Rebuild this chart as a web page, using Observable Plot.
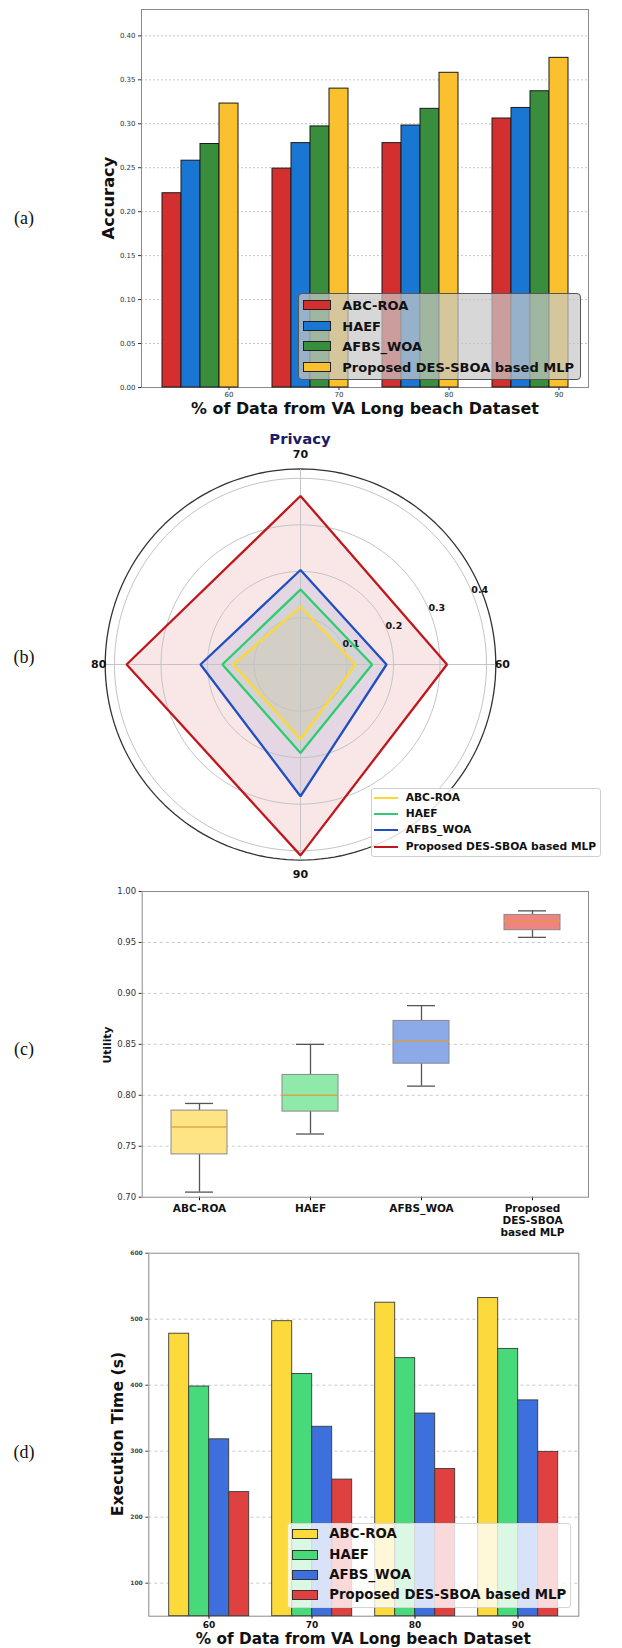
<!DOCTYPE html>
<html><head><meta charset="utf-8">
<script src="https://cdn.jsdelivr.net/npm/d3@7"></script>
<script src="https://cdn.jsdelivr.net/npm/@observablehq/plot@0.6"></script>
<style>
body{margin:0;background:#fff;}
#page{position:relative;width:622px;height:1648px;overflow:hidden;font-family:"DejaVu Sans";background:#fff;}
#page svg{position:absolute;}
</style></head>
<body><div id="page"></div>
<script>
// ---------------- DATA ----------------
const groups = ["60", "70", "80", "90"];
const methods = ["ABC-ROA", "HAEF", "AFBS_WOA", "Proposed DES-SBOA based MLP"];

// (a) Accuracy
const accABC  = [0.221, 0.249, 0.278, 0.306];
const accHAEF = [0.258, 0.278, 0.298, 0.318];
const accAFBS = [0.277, 0.297, 0.317, 0.337];
const accProp = [0.323, 0.340, 0.358, 0.375];
const accTicks = [0, 0.05, 0.10, 0.15, 0.20, 0.25, 0.30, 0.35, 0.40];

// (b) Privacy (radar), order of axes: 60, 70, 80, 90
const privABC  = [0.118, 0.124, 0.145, 0.161];
const privHAEF = [0.154, 0.161, 0.168, 0.190];
const privAFBS = [0.185, 0.203, 0.215, 0.283];
const privProp = [0.315, 0.362, 0.374, 0.410];
const privRTicks = [0.1, 0.2, 0.3, 0.4];

// (c) Utility box plot summary: lower whisker, Q1, median, Q3, upper whisker
const utilLo  = [0.705, 0.762, 0.809, 0.955];
const utilQ1  = [0.742, 0.784, 0.831, 0.962];
const utilMed = [0.769, 0.800, 0.853, 0.971];
const utilQ3  = [0.785, 0.820, 0.873, 0.977];
const utilHi  = [0.792, 0.850, 0.888, 0.981];
const utilTicks = [0.70, 0.75, 0.80, 0.85, 0.90, 0.95, 1.00];
const utilTickLabels = ["ABC-ROA", "HAEF", "AFBS_WOA", "Proposed\nDES-SBOA\nbased MLP"];

// (d) Execution time
const execABC  = [478, 497, 525, 532];
const execHAEF = [398, 417, 441, 455];
const execAFBS = [318, 337, 357, 377];
const execProp = [238, 257, 273, 299];
const execTicks = [100, 200, 300, 400, 500, 600];

const xLabel = "% of Data from VA Long beach Dataset";

// ---------------- STYLE ----------------
const accColors  = ["#D32F2F", "#1976D2", "#388E3C", "#FBC02D"];
const privColors = ["#FDD835", "#2ECC71", "#1F4FC1", "#C0171C"];
const utilColors = ["#FFE486", "#8FE9A8", "#8CA9E8", "#EE8580"];
const execColors = ["#FDDA3C", "#47D97A", "#3D70DC", "#DF4040"];
const FONT = "DejaVu Sans";

const page = document.getElementById("page");
function put(svg, top) { svg.style.left = "0px"; svg.style.top = top + "px"; page.appendChild(svg); }
function txt(s, cx, cy, o = {}) {
  const d = document.createElement("div");
  d.textContent = s;
  Object.assign(d.style, {
    position: "absolute", left: cx + "px", top: cy + "px",
    transform: `translate(-50%,-50%) rotate(${o.rotate || 0}deg)`,
    fontSize: (o.size || 14) + "px", fontWeight: o.weight || "bold",
    color: o.color || "#111", fontFamily: o.family || FONT,
    whiteSpace: "nowrap", lineHeight: "1"
  });
  page.appendChild(d);
}
function legend(o) {
  const box = document.createElement("div");
  Object.assign(box.style, {
    position: "absolute", left: o.left + "px", top: o.top + "px",
    width: o.width + "px", height: o.height + "px", boxSizing: "border-box",
    background: o.bg, border: o.border, borderRadius: o.radius + "px"
  });
  page.appendChild(box);
  methods.forEach((m, i) => {
    const cy = o.firstY + i * o.pitch;
    const sw = document.createElement("div");
    Object.assign(sw.style, {
      position: "absolute", left: o.swX + "px", top: (cy - o.swH / 2) + "px",
      width: o.swW + "px", height: o.swH + "px", boxSizing: "border-box",
      background: o.colors[i], border: o.swBorder || "none"
    });
    page.appendChild(sw);
    const t = document.createElement("div");
    t.textContent = m;
    Object.assign(t.style, {
      position: "absolute", left: o.textX + "px", top: cy + "px",
      transform: "translateY(-50%)", fontSize: o.size + "px", fontWeight: "bold",
      fontFamily: FONT, color: "#111", whiteSpace: "nowrap", lineHeight: "1"
    });
    page.appendChild(t);
  });
}
const tfmt2 = d3.format(".2f");

// ---------------- (a) ACCURACY ----------------
const accSeries = [accABC, accHAEF, accAFBS, accProp];
const accRows = groups.flatMap((g, i) => methods.map((m, j) => ({group: g, method: m, value: accSeries[j][i]})));
const aBox = {width: 622, height: 420, marginLeft: 141, marginRight: 34, marginTop: 9, marginBottom: 33,
  style: {fontFamily: FONT, background: "transparent", overflow: "visible"}};
put(Plot.plot({
  ...aBox,
  x: {domain: [0, 1], axis: null},
  y: {domain: [0, 0.43], axis: null},
  marks: [
    Plot.ruleY(accTicks.slice(1), {stroke: "#b5b5b5", strokeDasharray: "2,2", strokeWidth: 0.8}),
    Plot.axisY({ticks: accTicks, tickFormat: tfmt2, tickSize: 3, tickPadding: 3, fontSize: 7, label: null, color: "#333"}),
    Plot.frame({stroke: "#8a8a8a"})
  ]
}), 0);
put(Plot.plot({
  ...aBox,
  fx: {domain: groups, paddingInner: 0.31, paddingOuter: 0.186, axis: null, label: null},
  x: {domain: methods, padding: 0, axis: null},
  y: {domain: [0, 0.43], axis: null},
  color: {domain: methods, range: accColors},
  marks: [
    Plot.barY(accRows, {fx: "group", x: "method", y: "value", fill: "method", stroke: "#1a1a1a", strokeWidth: 1}),
    Plot.axisX({ticks: [methods[3]], tickFormat: () => "", tickSize: 3, label: null, color: "#333"}),
    Plot.text(groups, {fx: d => d, x: () => methods[3], text: d => d, frameAnchor: "bottom",
      lineAnchor: "top", dy: 5, fontSize: 7, fill: "#333"})
  ]
}), 0);
txt("Accuracy", 109, 198, {size: 16.3, rotate: -90});
txt(xLabel, 365, 409, {size: 15.9});
legend({left: 298, top: 293, width: 283, height: 87, bg: "rgba(200,200,200,0.72)", border: "1px solid #555",
  radius: 4, firstY: 305, pitch: 20.7, swX: 302.7, swW: 28, swH: 10, textX: 342.3, size: 13,
  colors: accColors, swBorder: "1px solid #222"});

// ---------------- (b) PRIVACY RADAR ----------------
const privSeries = [privABC, privHAEF, privAFBS, privProp];
const rMax = 0.42;
const angleOf = i => i * 2 * Math.PI / groups.length;
const ringR = [...privRTicks];
const ringPts = ringR.flatMap(r => d3.range(0, 361, 2).map(a => ({r, x: r * Math.cos(a * Math.PI / 180), y: r * Math.sin(a * Math.PI / 180)})));
const spinePts = d3.range(0, 361, 2).map(a => ({x: rMax * Math.cos(a * Math.PI / 180), y: rMax * Math.sin(a * Math.PI / 180)}));
const spokes = groups.map((g, i) => ({x2: rMax * Math.cos(angleOf(i)), y2: rMax * Math.sin(angleOf(i))}));
const polyMarks = privSeries.map((vals, j) => {
  const pts = vals.map((v, i) => ({x: v * Math.cos(angleOf(i)), y: v * Math.sin(angleOf(i))}));
  return [
    Plot.line(pts, {x: "x", y: "y", curve: "linear-closed", fill: privColors[j], fillOpacity: 0.1, stroke: "none"}),
  ];
});
const polyLines = privSeries.map((vals, j) => {
  const pts = vals.map((v, i) => ({x: v * Math.cos(angleOf(i)), y: v * Math.sin(angleOf(i))}));
  return Plot.line(pts, {x: "x", y: "y", curve: "linear-closed", stroke: privColors[j], strokeWidth: 2.3, strokeLinejoin: "miter", fill: "none"});
});
const labA = 22.5 * Math.PI / 180;
put(Plot.plot({
  width: 622, height: 460, marginLeft: 90.75, marginRight: 112.75, marginTop: 34.5, marginBottom: 6.5,
  style: {fontFamily: FONT, background: "transparent", overflow: "visible"},
  x: {domain: [-0.45, 0.45], axis: null},
  y: {domain: [-0.45, 0.45], axis: null},
  marks: [
    ...polyMarks.flat(),
    Plot.line(ringPts, {x: "x", y: "y", z: "r", stroke: "#c4c4c4", strokeWidth: 1}),
    Plot.line(spinePts, {x: "x", y: "y", stroke: "#333", strokeWidth: 1.3}),
    Plot.link(spokes, {x1: () => 0, y1: () => 0, x2: "x2", y2: "y2", stroke: "#c4c4c4", strokeWidth: 1}),
    Plot.text(privRTicks, {x: r => r * Math.cos(labA), y: r => r * Math.sin(labA), text: r => String(r),
      textAnchor: "start", lineAnchor: "bottom", dx: -1, fontSize: 9.5, fontWeight: "bold", fill: "#111"}),
    ...polyLines,
    Plot.text(groups, {x: (g, i) => (i % 2 ? 0.452 : 0.434) * Math.cos(angleOf(i)),
      y: (g, i) => (i % 2 ? 0.452 : 0.434) * Math.sin(angleOf(i)), text: d => d,
      fontSize: 11, fontWeight: "bold", fill: "#111"})
  ]
}), 420);
txt("Privacy", 300, 439, {size: 14.8, color: "#1b1b66"});
legend({left: 371, top: 788, width: 230, height: 69, bg: "rgba(255,255,255,0.85)", border: "1px solid #cfcfcf",
  radius: 3, firstY: 797.7, pitch: 16.3, swX: 374, swW: 24, swH: 2.2, textX: 405.7, size: 10.7,
  colors: privColors});

// ---------------- (c) UTILITY BOX PLOT ----------------
const utilRows = methods.map((m, i) => ({method: m, lo: utilLo[i], q1: utilQ1[i], med: utilMed[i], q3: utilQ3[i], hi: utilHi[i]}));
put(Plot.plot({
  width: 622, height: 365, marginLeft: 141.7, marginRight: 34, marginTop: 11, marginBottom: 48.3,
  style: {fontFamily: FONT, background: "transparent", overflow: "visible"},
  x: {domain: methods, paddingInner: 0.5, paddingOuter: 0.26, axis: null},
  y: {domain: [0.70, 1.00], axis: null},
  color: {domain: methods, range: utilColors},
  marks: [
    Plot.ruleY(utilTicks.slice(1, -1), {stroke: "#c4c4c4", strokeDasharray: "3,3", strokeWidth: 0.9}),
    Plot.ruleX(utilRows, {x: "method", y1: "lo", y2: "q1", stroke: "#555", strokeWidth: 1.3}),
    Plot.ruleX(utilRows, {x: "method", y1: "q3", y2: "hi", stroke: "#555", strokeWidth: 1.3}),
    Plot.tickY(utilRows, {x: "method", y: "lo", stroke: "#555", strokeWidth: 1.3, inset: 14}),
    Plot.tickY(utilRows, {x: "method", y: "hi", stroke: "#555", strokeWidth: 1.3, inset: 14}),
    Plot.barY(utilRows, {x: "method", y1: "q1", y2: "q3", fill: "method", stroke: "#8a8a8a", strokeWidth: 1}),
    Plot.tickY(utilRows, {x: "method", y: "med", stroke: "#e39a3b", strokeWidth: 1.5, strokeOpacity: 0.85}),
    Plot.axisY({ticks: utilTicks, tickFormat: tfmt2, tickSize: 3, tickPadding: 3, fontSize: 8.5, label: null, color: "#333"}),
    Plot.axisX({tickSize: 3.5, tickPadding: 3, fontSize: 10.5, fontWeight: "bold", lineHeight: 1.15,
      tickFormat: d => utilTickLabels[methods.indexOf(d)], label: null, color: "#111"}),
    Plot.frame({stroke: "#8a8a8a"})
  ]
}), 880);
txt("Utility", 108.3, 1044.7, {size: 10.7, rotate: -90});

// ---------------- (d) EXECUTION TIME ----------------
const execSeries = [execABC, execHAEF, execAFBS, execProp];
const execRows = groups.flatMap((g, i) => methods.map((m, j) => ({group: g, method: m, value: execSeries[j][i]})));
const dBox = {width: 622, height: 406, marginLeft: 148.3, marginRight: 43.7, marginTop: 10.7, marginBottom: 32.3,
  style: {fontFamily: FONT, background: "transparent", overflow: "visible"}};
put(Plot.plot({
  ...dBox,
  x: {domain: [0, 1], axis: null},
  y: {domain: [50, 600], axis: null},
  marks: [
    Plot.ruleY(execTicks.slice(0, -1), {stroke: "#c4c4c4", strokeDasharray: "3,3", strokeWidth: 0.9}),
    Plot.axisY({ticks: execTicks, tickSize: 3, tickPadding: 3, fontSize: 6, fontWeight: "bold", label: null, color: "#444"}),
    Plot.frame({stroke: "#8a8a8a"})
  ]
}), 1242);
put(Plot.plot({
  ...dBox,
  fx: {domain: groups, paddingInner: 0.194, paddingOuter: 0.183, label: null},
  x: {domain: methods, padding: 0, axis: null},
  y: {domain: [50, 600], axis: null},
  color: {domain: methods, range: execColors},
  marks: [
    Plot.barY(execRows, {fx: "group", x: "method", y1: 50, y2: "value", fill: "method", stroke: "#3a3a3a", strokeWidth: 0.9}),
    Plot.axisFx({anchor: "bottom", tickSize: 3, tickPadding: 2, fontSize: 9, fontWeight: "bold", label: null, color: "#111"})
  ]
}), 1242);
txt("Execution Time (s)", 118.3, 1434, {size: 15.7, rotate: -90});
txt(xLabel, 363.3, 1640, {size: 15.3});
legend({left: 286.7, top: 1523.3, width: 284.3, height: 85, bg: "rgba(255,255,255,0.8)", border: "1px solid #d5d5d5",
  radius: 3, firstY: 1534.3, pitch: 20.2, swX: 291.7, swW: 26.7, swH: 10, textX: 329.3, size: 13.3,
  colors: execColors, swBorder: "1px solid #333"});

// ---------------- panel labels ----------------
const panelLabels = ["(a)", "(b)", "(c)", "(d)"];
const panelLabelY = [218, 657, 1049, 1452];
panelLabels.forEach((s, i) => txt(s, 24, panelLabelY[i], {size: 18, weight: "normal", family: "Liberation Serif"}));
</script>
</body></html>
